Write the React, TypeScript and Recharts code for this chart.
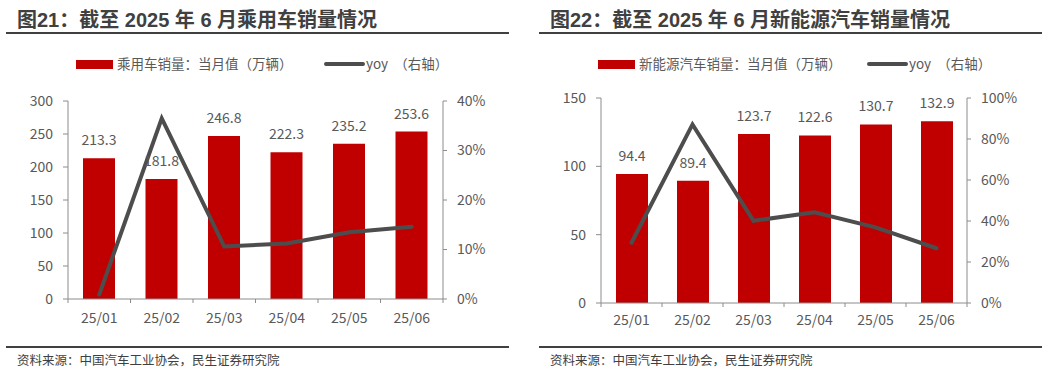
import React from 'react'
import {
    ComposedChart,
    Bar,
    Line,
    XAxis,
    YAxis,
    LabelList,
} from 'recharts'

// months shared by both charts
const months = ['25/01', '25/02', '25/03', '25/04', '25/05', '25/06']

// passenger car sales (万辆) and yoy
const pcSales = [213.3, 181.8, 246.8, 222.3, 235.2, 253.6]
const pcYoy = [0.009, 0.365, 0.106, 0.112, 0.135, 0.146]
const pcLeftTicks = [0, 50, 100, 150, 200, 250, 300]
const pcRightTicks = [0, 0.1, 0.2, 0.3, 0.4]

// NEV sales (万辆) and yoy
const nevSales = [94.4, 89.4, 123.7, 122.6, 130.7, 132.9]
const nevYoy = [0.294, 0.871, 0.401, 0.442, 0.369, 0.267]
const nevLeftTicks = [0, 50, 100, 150]
const nevRightTicks = [0, 0.2, 0.4, 0.6, 0.8, 1.0]

const RED = '#C00000'
const LINE = '#4d4d4d'
const AXIS = '#8c8c8c'
const TICK = '#595959'
const DARK = '#404040'
const FONT = '"Noto Sans CJK SC", "Noto Sans", sans-serif'
const TITLE_FONT = '"Liberation Sans", "Noto Sans CJK SC", sans-serif'

interface PanelProps {
    left: number
    title: string
    legendName: string
    legendX: number
    lineLegendX: number
    sales: number[]
    yoy: number[]
    leftTicks: number[]
    rightTicks: number[]
    margin: { top: number; right: number; bottom: number; left: number }
    leftAxisWidth: number
    xTickMargin: number
    ruleX: number
    titleX: number
}

const pct = (v: number) => `${Math.round(v * 100)}%`

const textBase: React.CSSProperties = {
    position: 'absolute',
    fontFamily: FONT,
    whiteSpace: 'nowrap',
}

const Panel: React.FC<PanelProps> = (p) => {
    const data = months.map((m, i) => ({ month: m, sales: p.sales[i], yoy: p.yoy[i] }))
    const W = 524
    const H = 375
    const rightAxisWidth = 60
    const plotW = W - p.margin.left - p.leftAxisWidth - rightAxisWidth - p.margin.right
    const band = plotW / months.length
    const tickSize = 4

    // x tick: label at centre, small marks at the band boundaries
    const XTick = (props: any) => {
        const { x, y, payload, index } = props
        const axisY = y - tickSize - p.xTickMargin
        return (
            <g>
                <line x1={x - band / 2} x2={x - band / 2} y1={axisY} y2={axisY + tickSize} stroke={AXIS} />
                {index === months.length - 1 && (
                    <line x1={x + band / 2} x2={x + band / 2} y1={axisY} y2={axisY + tickSize} stroke={AXIS} />
                )}
                <text x={x} y={y} dy="0.71em" textAnchor="middle" fill={TICK} fontSize={14} fontFamily={FONT}>
                    {payload.value}
                </text>
            </g>
        )
    }

    return (
        <div style={{ position: 'absolute', left: p.left, top: 0, width: W, height: H }}>
            <div
                style={{
                    ...textBase,
                    left: p.titleX,
                    top: 8,
                    fontFamily: TITLE_FONT,
                    fontWeight: 700,
                    fontSize: 20,
                    lineHeight: '24px',
                    color: DARK,
                }}
            >
                {p.title}
            </div>
            <div style={{ position: 'absolute', left: p.ruleX, top: 32, width: 503, height: 2, background: DARK }} />

            {/* legend */}
            <div style={{ position: 'absolute', left: p.legendX, top: 60, width: 37, height: 9, background: RED }} />
            <div style={{ ...textBase, left: p.legendX + 41, top: 54, fontSize: 13.5, lineHeight: '18px', color: TICK }}>
                {p.legendName}
            </div>
            <div style={{ position: 'absolute', left: p.lineLegendX, top: 62, width: 41, height: 4, background: LINE, borderRadius: 2 }} />
            <div style={{ ...textBase, left: p.lineLegendX + 42, top: 54, fontSize: 13.5, lineHeight: '18px', color: TICK }}>
                yoy<span style={{ paddingLeft: 6 }}>（右轴）</span>
            </div>

            <div style={{ position: 'absolute', left: 0, top: 0 }}>
                <ComposedChart width={W} height={H} data={data} margin={p.margin}>
                    <XAxis
                        dataKey="month"
                        height={30}
                        stroke={AXIS}
                        tickLine={false}
                        tickSize={tickSize}
                        tickMargin={p.xTickMargin}
                        tick={XTick}
                        interval={0}
                    />
                    <YAxis
                        yAxisId="left"
                        width={p.leftAxisWidth}
                        domain={[p.leftTicks[0], p.leftTicks[p.leftTicks.length - 1]]}
                        ticks={p.leftTicks}
                        stroke={AXIS}
                        tickSize={5}
                        tickMargin={10}
                        tick={{ fill: TICK, fontSize: 14, fontFamily: FONT }}
                        interval={0}
                    />
                    <YAxis
                        yAxisId="right"
                        orientation="right"
                        width={rightAxisWidth}
                        domain={[p.rightTicks[0], p.rightTicks[p.rightTicks.length - 1]]}
                        ticks={p.rightTicks}
                        tickFormatter={pct}
                        stroke={AXIS}
                        tickSize={4}
                        tickMargin={10}
                        tick={{ fill: TICK, fontSize: 14, fontFamily: FONT, textAnchor: 'start' }}
                        interval={0}
                    />
                    <Bar yAxisId="left" dataKey="sales" fill={RED} barSize={32} isAnimationActive={false}>
                        <LabelList
                            dataKey="sales"
                            position="top"
                            offset={13}
                            fill={TICK}
                            fontSize={14}
                            fontFamily={FONT}
                            formatter={(v: any) => Number(v).toFixed(1)}
                        />
                    </Bar>
                    <Line
                        yAxisId="right"
                        dataKey="yoy"
                        type="linear"
                        stroke={LINE}
                        strokeWidth={4}
                        strokeLinecap="round"
                        dot={false}
                        activeDot={false}
                        isAnimationActive={false}
                    />
                </ComposedChart>
            </div>

            {/* source footer */}
            <div style={{ position: 'absolute', left: p.ruleX, top: 346, width: 503, height: 2, background: DARK }} />
            <div style={{ ...textBase, left: p.titleX, top: 351, fontSize: 12.5, lineHeight: '18px', color: DARK }}>
                资料来源：中国汽车工业协会，民生证券研究院
            </div>
        </div>
    )
}

export default function App() {
    return (
        <div style={{ position: 'absolute', left: 0, top: 0, width: 1048, height: 375, background: '#fff', overflow: 'hidden' }}>
            <Panel
                left={0}
                title="图21：截至 2025 年 6 月乘用车销量情况"
                legendName="乘用车销量：当月值（万辆）"
                legendX={76}
                lineLegendX={324}
                sales={pcSales}
                yoy={pcYoy}
                leftTicks={pcLeftTicks}
                rightTicks={pcRightTicks}
                margin={{ top: 101, right: 21, bottom: 46, left: 0 }}
                leftAxisWidth={68}
                xTickMargin={10}
                ruleX={6}
                titleX={17}
            />
            <Panel
                left={524}
                title="图22：截至 2025 年 6 月新能源汽车销量情况"
                legendName="新能源汽车销量：当月值（万辆）"
                legendX={74}
                lineLegendX={343}
                sales={nevSales}
                yoy={nevYoy}
                leftTicks={nevLeftTicks}
                rightTicks={nevRightTicks}
                margin={{ top: 98, right: 21, bottom: 42, left: 0 }}
                leftAxisWidth={77}
                xTickMargin={8}
                ruleX={15}
                titleX={26}
            />
        </div>
    )
}
